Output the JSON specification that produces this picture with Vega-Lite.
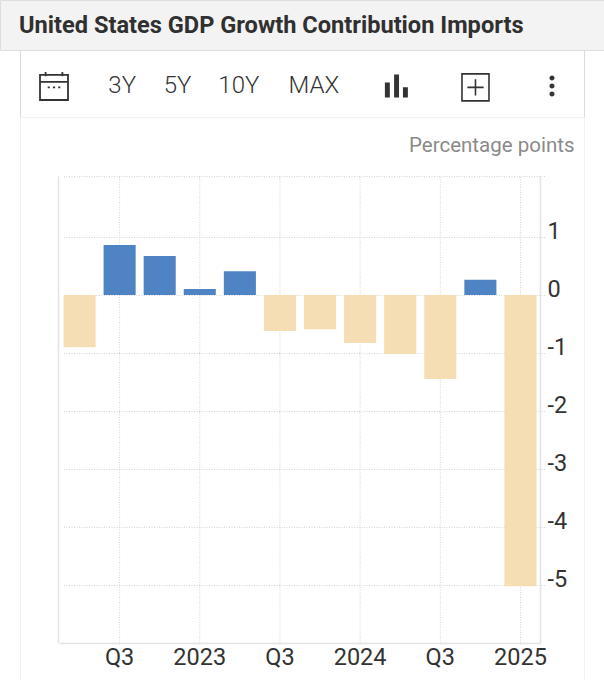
{
  "$schema": "https://vega.github.io/schema/vega-lite/v6.json",
  "padding": {"left": -1, "top": -1, "right": 0, "bottom": 0},
  "spacing": 0,
  "center": true,
  "bounds": "flush",
  "background": "white",
  "config": {
    "font": "Roboto",
    "concat": {"spacing": 0}
  },
  "vconcat": [
    {
      "width": 604,
      "height": 50,
      "view": {"fill": "#f3f3f3", "stroke": "#dedede"},
      "data": {"values": [{"label": "United States GDP Growth Contribution Imports"}]},
      "mark": {"type": "text", "align": "left", "fontSize": 23.6, "fontWeight": 700, "color": "#303030", "dy": 1},
      "encoding": {
        "x": {"field": "label", "type": "nominal", "axis": null, "scale": {"range": [19, 19]}},
        "text": {"field": "label"}
      }
    },
    {
      "width": 564,
      "height": 67,
      "view": {"fill": "white", "stroke": "#dcdcdc"},
      "data": {
        "values": [
          {"item": "calendar"},
          {"item": "3Y"},
          {"item": "5Y"},
          {"item": "10Y"},
          {"item": "MAX"},
          {"item": "bars"},
          {"item": "plus"},
          {"item": "more"}
        ]
      },
      "encoding": {
        "x": {
          "field": "item",
          "type": "nominal",
          "axis": null,
          "scale": {
            "type": "point",
            "padding": 0,
            "range": [34, 532],
            "domain": ["calendar", "_1", "_2", "_3", "_4", "3Y", "_6", "_7", "_8", "5Y", "_10", "_11", "_12", "10Y", "_14", "_15", "_16", "_17", "_18", "MAX", "_20", "_21", "_22", "_23", "_24", "bars", "_26", "_27", "_28", "_29", "plus", "_31", "_32", "_33", "_34", "_35", "more"]
          }
        },
        "y": {"field": "item", "type": "nominal", "axis": null, "scale": {"range": [36, 36]}}
      },
      "layer": [
        {
          "transform": [{"filter": "indexof(['3Y','5Y'], datum.item) >= 0"}],
          "mark": {"type": "text", "fontSize": 24, "fontWeight": 300, "color": "#333333", "dx": -1},
          "encoding": {"text": {"field": "item"}}
        },
        {
          "transform": [{"filter": "datum.item == '10Y'"}],
          "mark": {"type": "text", "fontSize": 24, "fontWeight": 300, "color": "#333333", "dx": 5},
          "encoding": {"text": {"field": "item"}}
        },
        {
          "transform": [{"filter": "datum.item == 'MAX'"}],
          "mark": {"type": "text", "fontSize": 24, "fontWeight": 300, "color": "#333333", "dx": -3},
          "encoding": {"text": {"field": "item"}}
        },
        {
          "transform": [{"filter": "datum.item == 'calendar'"}],
          "mark": {
            "type": "point",
            "filled": false,
            "size": 784,
            "stroke": "#333333",
            "strokeWidth": 1.8,
            "opacity": 1,
            "shape": "M-1,-0.8H1V1H-1Z M-1,-0.3H1 M-0.6,-1V-0.7 M0.6,-1V-0.7 M-0.45,0.1H-0.3 M-0.08,0.1H0.08 M0.3,0.1H0.45"
          }
        },
        {
          "transform": [{"filter": "datum.item == 'plus'"}],
          "mark": {
            "type": "point",
            "filled": false,
            "size": 729,
            "stroke": "#333333",
            "strokeWidth": 1.6,
            "opacity": 1,
            "shape": "M-0.52,-0.9H1.48V1.1H-0.52Z M-0.12,0.1H1.08 M0.48,-0.5V0.7"
          }
        },
        {
          "transform": [{"filter": "datum.item == 'bars'"}],
          "mark": {
            "type": "point",
            "filled": true,
            "size": 529,
            "fill": "#333333",
            "opacity": 1,
            "shape": "M-1.3,-0.3H-0.87V1H-1.3Z M-0.5,-1H-0.07V1H-0.5Z M0.27,0.1H0.7V1H0.27Z"
          }
        },
        {
          "transform": [{"filter": "datum.item == 'more'"}],
          "mark": {
            "type": "point",
            "filled": true,
            "size": 441,
            "fill": "#333333",
            "opacity": 1,
            "shape": "M-0.24,-0.76A0.24,0.24 0 1 1 0.24,-0.76A0.24,0.24 0 1 1 -0.24,-0.76Z M-0.24,0A0.24,0.24 0 1 1 0.24,0A0.24,0.24 0 1 1 -0.24,0Z M-0.24,0.76A0.24,0.24 0 1 1 0.24,0.76A0.24,0.24 0 1 1 -0.24,0.76Z"
          }
        }
      ]
    },
    {
      "width": 564,
      "height": 563,
      "view": {"fill": "white", "stroke": "#f1f1f1"},
      "data": {
        "values": [
          {"quarter": "2022Q2", "value": -0.9},
          {"quarter": "2022Q3", "value": 0.86},
          {"quarter": "2022Q4", "value": 0.67},
          {"quarter": "2023Q1", "value": 0.1},
          {"quarter": "2023Q2", "value": 0.41},
          {"quarter": "2023Q3", "value": -0.62},
          {"quarter": "2023Q4", "value": -0.59},
          {"quarter": "2024Q1", "value": -0.83},
          {"quarter": "2024Q2", "value": -1.02},
          {"quarter": "2024Q3", "value": -1.45},
          {"quarter": "2024Q4", "value": 0.26},
          {"quarter": "2025Q1", "value": -5.02}
        ]
      },
      "encoding": {
        "x": {
          "field": "quarter",
          "type": "nominal",
          "sort": null,
          "scale": {
            "type": "band",
            "domain": ["2022Q2", "2022Q3", "2022Q4", "2023Q1", "2023Q2", "2023Q3", "2023Q4", "2024Q1", "2024Q2", "2024Q3", "2024Q4", "2025Q1"],
            "range": [39.5, 520.5],
            "paddingInner": 0.2,
            "paddingOuter": 0.1
          },
          "axis": {
            "title": null,
            "values": ["2022Q3", "2023Q1", "2023Q3", "2024Q1", "2024Q3", "2025Q1"],
            "labelExpr": "slice(datum.value, 4) == 'Q1' ? slice(datum.value, 0, 4) : 'Q3'",
            "labelAngle": 0,
            "labelFontSize": 23.5,
            "labelColor": "#333333",
            "labelPadding": 2,
            "ticks": false,
            "offset": -37,
            "domainColor": "#e4e4e4",
            "domainWidth": 1.5,
            "grid": false
          }
        },
        "y": {
          "field": "value",
          "type": "quantitative",
          "scale": {"domain": [-6, 2.05], "range": [526, 59], "nice": false}
        }
      },
      "resolve": {"axis": {"y": "independent"}},
      "layer": [
        {
          "transform": [{"filter": "indexof(['2022Q3','2023Q1','2023Q3','2024Q1','2024Q3','2025Q1'], datum.quarter) >= 0"}],
          "mark": {"type": "rule", "color": "#d4d4d4", "strokeDash": [1, 1.5]},
          "encoding": {
            "y": {"datum": -6, "type": "quantitative", "scale": {"domain": [-6, 2.05], "range": [526, 59], "nice": false}, "axis": null},
            "y2": {"datum": 2.05}
          }
        },
        {
          "mark": {"type": "bar"},
          "encoding": {
            "y": {
              "field": "value",
              "type": "quantitative",
              "scale": {"domain": [-6, 2.05], "range": [526, 59], "nice": false},
              "axis": {
                "orient": "right",
                "title": "Percentage points",
                "titleAngle": 0,
                "titleAlign": "right",
                "titleBaseline": "middle",
                "titleX": 34,
                "titleY": 28,
                "titleFontSize": 20.5,
                "titleFontWeight": "normal",
                "titleColor": "#8a8a8a",
                "values": [2.05, 1, 0, -1, -2, -3, -4, -5],
                "labelExpr": "datum.value > 2 ? '' : toString(datum.value)",
                "labelFontSize": 23.5,
                "labelColor": "#333333",
                "labelAlign": "left",
                "labelPadding": 7,
                "labelOffset": -5,
                "ticks": false,
                "offset": -44,
                "domainColor": "#e4e4e4",
                "domainWidth": 1.5,
                "grid": true,
                "gridColor": "#d4d4d4",
                "gridDash": [1, 1.5]
              }
            },
            "color": {
              "condition": {"test": "datum.value < 0", "value": "#f5deb3"},
              "value": "#4f84c4"
            }
          }
        },
        {
          "mark": {"type": "bar", "opacity": 0},
          "encoding": {
            "y": {
              "field": "value",
              "type": "quantitative",
              "scale": {"domain": [-6, 2.05], "range": [526, 59], "nice": false},
              "axis": {
                "orient": "left",
                "title": null,
                "labels": false,
                "ticks": false,
                "grid": false,
                "offset": -38,
                "domainColor": "#e4e4e4",
                "domainWidth": 1.5
              }
            }
          }
        }
      ]
    }
  ]
}
